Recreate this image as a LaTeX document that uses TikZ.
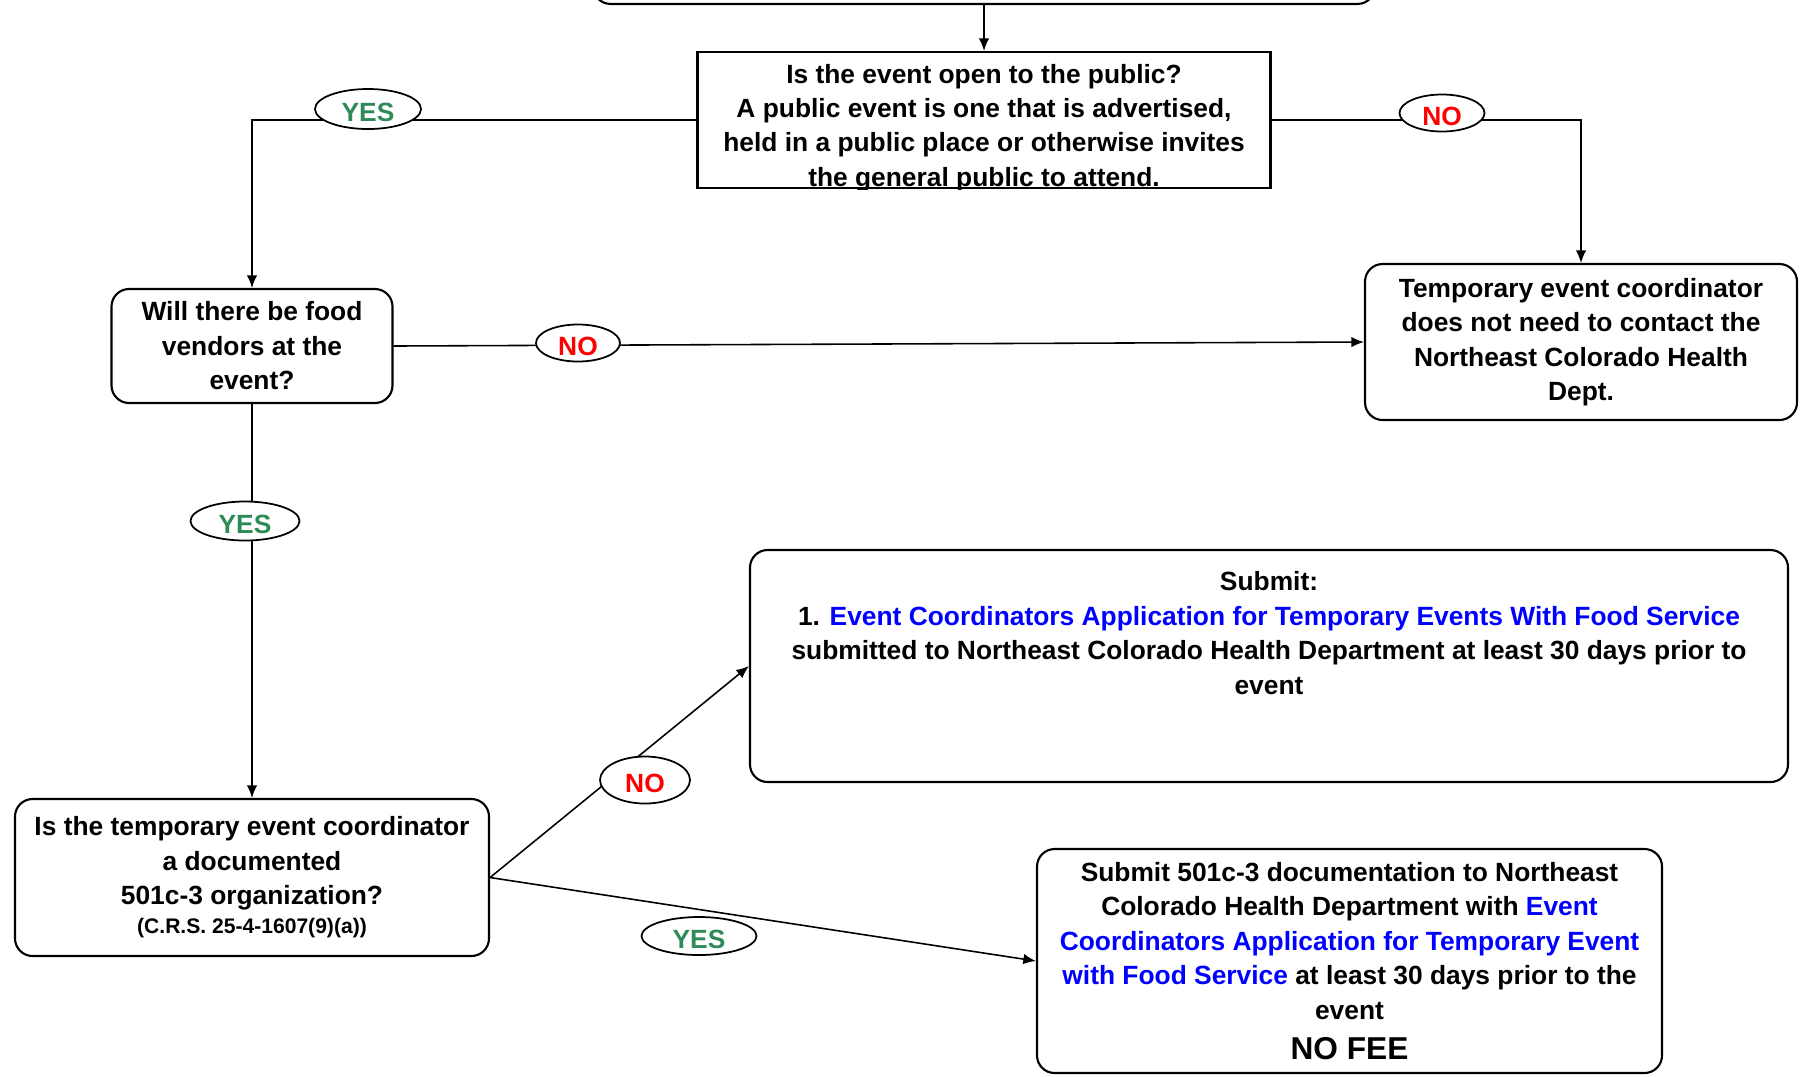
\documentclass[tikz,border=0pt]{standalone}
\usepackage{fontspec}
\setmainfont{Liberation Sans}
\usepackage{xcolor}
\usepackage{tikz}
\usetikzlibrary{shapes.geometric, arrows.meta, positioning, calc}
\definecolor{yesgreen}{RGB}{46, 139, 87}
\definecolor{nored}{RGB}{255, 0, 0}
\definecolor{linkblue}{RGB}{0, 0, 255}

\begin{document}
\begin{tikzpicture}[
    box/.style={rectangle, draw, line width=0.6pt, rounded corners=5pt, align=center, font=\fontsize{7.5}{9.8}\selectfont\bfseries, inner sep=0pt},
    question/.style={rectangle, draw, line width=0.6pt, inner sep=0pt},
    boxtext/.style={align=center, font=\fontsize{7.5}{9.8}\selectfont\bfseries, inner sep=0pt},
    yeslabel/.style={ellipse, draw, fill=white, line width=0.5pt, inner sep=0pt, text height=7pt, text depth=0pt, font=\fontsize{7.5}{9}\selectfont\bfseries, text=yesgreen},
    nolabel/.style={ellipse, draw, fill=white, line width=0.5pt, inner sep=0pt, text height=7pt, text depth=0pt, font=\fontsize{7.5}{9}\selectfont\bfseries, text=nored},
    arrow/.style={-{Latex[length=3.6pt, width=3pt]}, line width=0.45pt}
]
    \useasboundingbox (0,0) rectangle (18.05,-10.76);

    % Boxes
    \node[box, minimum width=7.82cm, minimum height=0.8cm, anchor=south] (start) at (9.84,-0.05) {};
    \node[question, minimum width=5.73cm, minimum height=1.36cm] (public) at (9.84,-1.20) {};
    \begin{scope}
        \clip (public.south west) rectangle (public.north east);
        \node[boxtext] (publictext) at (9.84,-1.28) {Is the event open to the public?\\A public event is one that is advertised,\\held in a public place or otherwise invites\\the general public to attend.};
    \end{scope}
    \node[box, minimum width=2.81cm, minimum height=1.14cm] (food) at (2.52,-3.46) {Will there be food\\vendors at the\\event?};
    \node[box, minimum width=4.32cm, minimum height=1.56cm] (nocontact) at (15.81,-3.42) {Temporary event coordinator\\does not need to contact the\\Northeast Colorado Health\\Dept.};
    \node[box, minimum width=4.74cm, minimum height=1.57cm] (nonprofit) at (2.52,-8.775) {Is the temporary event coordinator\\a documented\\501c-3 organization?\\[-1.5pt]{\fontsize{6}{8}\selectfont (C.R.S. 25-4-1607(9)(a))}};
    \node[box, minimum width=10.38cm, minimum height=2.32cm] (submit) at (12.69,-6.66) {};
    \node[boxtext, anchor=north] (submittext) at ([yshift=-0.22cm]submit.north) {Submit:\\1. \textcolor{linkblue}{Event Coordinators Application for Temporary Events With Food Service}\\submitted to Northeast Colorado Health Department at least 30 days prior to\\event};
    \node[box, minimum width=6.25cm, minimum height=2.24cm] (nofee) at (13.495,-9.61) {Submit 501c-3 documentation to Northeast\\Colorado Health Department with \textcolor{linkblue}{Event}\\\textcolor{linkblue}{Coordinators Application for Temporary Event}\\\textcolor{linkblue}{with Food Service} at least 30 days prior to the\\event\\[1.6pt]{\fontsize{9}{11}\selectfont NO FEE}};

    % Connectors
    \draw[arrow] (start.south) -- (public.north);
    \draw[arrow] (public.west) -| (food.north);
    \draw[arrow] (public.east) -| (nocontact.north);
    \draw[arrow] (food.east) -- (nocontact.west);
    \draw[arrow] (food.south) -- (nonprofit.north);
    \draw[arrow] (nonprofit.east) -- (submit.west);
    \draw[arrow] (nonprofit.east) -- (nofee.west);

    % Answer labels
    \node[yeslabel, minimum width=1.06cm, minimum height=0.40cm] (yespublic) at (3.68,-1.09) {YES};
    \node[nolabel, minimum width=0.85cm, minimum height=0.37cm] (nopublic) at (14.42,-1.13) {NO};
    \node[nolabel, minimum width=0.84cm, minimum height=0.37cm] (nofood) at (5.78,-3.43) {NO};
    \node[yeslabel, minimum width=1.09cm, minimum height=0.39cm] (yesfood) at (2.45,-5.21) {YES};
    \node[nolabel, minimum width=0.90cm, minimum height=0.47cm] (noorg) at (6.45,-7.80) {NO};
    \node[yeslabel, minimum width=1.15cm, minimum height=0.38cm] (yesorg) at (6.99,-9.36) {YES};
\end{tikzpicture}
\end{document}
